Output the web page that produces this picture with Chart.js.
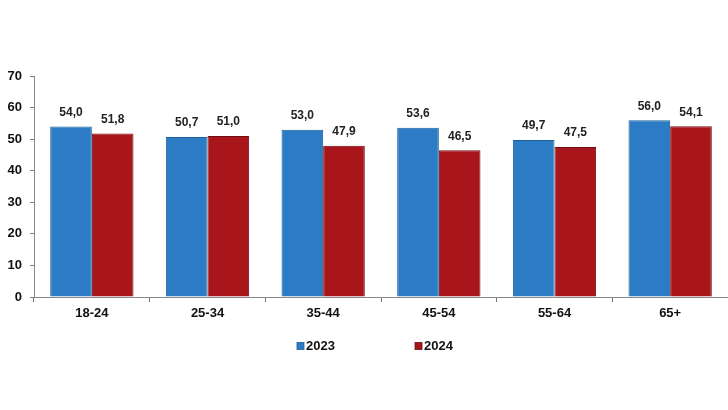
<!DOCTYPE html>
<html>
<head>
<meta charset="utf-8">
<script src="https://cdn.jsdelivr.net/npm/chart.js@4"></script>
<style>
html,body{margin:0;padding:0;background:#fff;}
#wrap{width:728px;height:410px;position:relative;}
</style>
</head>
<body>
<div id="wrap"><canvas id="c" width="728" height="410"></canvas></div>
<script>
const categories = ["18-24", "25-34", "35-44", "45-54", "55-64", "65+"];
const seriesNames = ["2023", "2024"];
const values2023 = [54.0, 50.7, 53.0, 53.6, 49.7, 56.0];
const values2024 = [51.8, 51.0, 47.9, 46.5, 47.5, 54.1];
const yTicks = [0, 10, 20, 30, 40, 50, 60, 70];

const FONT = "'Liberation Sans', Arial, sans-serif";

const labelPlugin = {
  id: 'valueLabels',
  afterDatasetsDraw(chart) {
    const ctx = chart.ctx;
    ctx.save();
    ctx.font = "bold 12px " + FONT;
    ctx.fillStyle = "#222";
    ctx.textAlign = "center";
    ctx.textBaseline = "middle";
    chart.data.datasets.forEach((ds, i) => {
      const meta = chart.getDatasetMeta(i);
      meta.data.forEach((bar, j) => {
        const v = ds.data[j];
        ctx.fillText(v.toFixed(1).replace('.', ','), bar.x, bar.y - 14);
      });
    });
    ctx.restore();
  }
};

const legendPlugin = {
  id: 'customLegend',
  afterDraw(chart) {
    const ctx = chart.ctx;
    const xs = [297, 415];
    const y = 346;
    ctx.save();
    ctx.font = "bold 13px " + FONT;
    ctx.textBaseline = "middle";
    ctx.textAlign = "left";
    chart.data.datasets.forEach((ds, i) => {
      ctx.fillStyle = ds.backgroundColor;
      ctx.fillRect(xs[i], y - 3.5, 7, 7);
      ctx.strokeStyle = ds.borderColor;
      ctx.lineWidth = 0.8;
      ctx.strokeRect(xs[i], y - 3.5, 7, 7);
      ctx.fillStyle = "#111";
      ctx.fillText(ds.label, xs[i] + 9, y);
    });
    ctx.restore();
  }
};

new Chart(document.getElementById('c'), {
  type: 'bar',
  data: {
    labels: categories,
    datasets: [
      { label: seriesNames[0], data: values2023, backgroundColor: '#2B7CC4', borderColor: '#1F5F99', borderWidth: 1 },
      { label: seriesNames[1], data: values2024, backgroundColor: '#A8151B', borderColor: '#6E0E12', borderWidth: 1 }
    ]
  },
  options: {
    responsive: false,
    animation: false,
    devicePixelRatio: 1,
    layout: { padding: { top: 76, left: 0, right: 0, bottom: 0 } },
    datasets: { bar: { categoryPercentage: 0.72, barPercentage: 1.0 } },
    plugins: { legend: { display: false }, tooltip: { enabled: false } },
    scales: {
      x: {
        afterFit(scale) { scale.height = 113; },
        grid: { display: true, offset: true, drawOnChartArea: false, tickLength: 5, color: '#777' },
        border: { display: true, color: '#888' },
        ticks: { font: { family: FONT, size: 13, weight: 'bold' }, color: '#111', padding: 4, maxRotation: 0 }
      },
      y: {
        min: 0, max: 70,
        afterFit(scale) { scale.width = 34; },
        afterBuildTicks(scale) { scale.ticks = yTicks.map(v => ({ value: v })); },
        grid: { display: true, drawOnChartArea: false, tickLength: 4, color: '#777' },
        border: { display: true, color: '#888' },
        ticks: { font: { family: FONT, size: 13, weight: 'bold' }, color: '#111', padding: 8 }
      }
    }
  },
  plugins: [labelPlugin, legendPlugin]
});
</script>
</body>
</html>
